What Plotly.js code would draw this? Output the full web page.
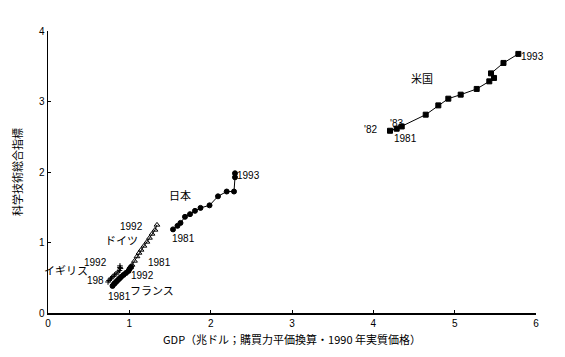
<!DOCTYPE html>
<html>
<head>
<meta charset="utf-8">
<script src="https://cdn.plot.ly/plotly-3.0.1.min.js"></script>
<style>html,body{margin:0;padding:0;background:#fff;}#chart{width:565px;height:357px;}</style>
</head>
<body>
<div id="chart"></div>
<script>
// Data (GDP in trillion $, science & technology index)
const years = [1981,1982,1983,1984,1985,1986,1987,1988,1989,1990,1991,1992,1993];

const usGDP   = [4.349,4.205,4.287,4.644,4.799,4.922,5.074,5.271,5.426,5.484,5.447,5.600,5.783];
const usIndex = [2.646,2.585,2.614,2.813,2.945,3.040,3.097,3.178,3.286,3.334,3.399,3.547,3.675];

const jpGDP   = [1.537,1.592,1.629,1.684,1.746,1.807,1.875,1.986,2.090,2.197,2.287,2.299,2.299];
const jpIndex = [1.186,1.236,1.278,1.364,1.402,1.449,1.491,1.527,1.655,1.723,1.723,1.925,1.982];

const deGDP   = [1.014,1.033,1.064,1.094,1.119,1.144,1.180,1.217,1.248,1.279,1.316,1.340];
const deIndex = [0.646,0.682,0.739,0.802,0.852,0.895,0.952,1.009,1.065,1.122,1.179,1.250];

const frGDP   = [0.793,0.812,0.824,0.842,0.861,0.879,0.898,0.928,0.959,0.990,1.002,1.021];
const frIndex = [0.384,0.412,0.426,0.447,0.469,0.490,0.511,0.540,0.568,0.597,0.625,0.653];

const ukGDP   = [0.738,0.750,0.768,0.781,0.799,0.818,0.836,0.861,0.879,0.891,0.885,0.885];
const ukIndex = [0.440,0.462,0.483,0.497,0.518,0.540,0.554,0.582,0.604,0.632,0.646,0.668];

const xTicks = [0,1,2,3,4,5,6];
const yTicks = [0,1,2,3,4];

const NUM = 'Liberation Sans, Arial, sans-serif';
const JP = 'Noto Sans CJK JP, sans-serif';

function series(x, y, symbol, size, name) {
  return {
    type: 'scatter', mode: 'lines+markers', x: x, y: y, name: name,
    text: years.slice(0, x.length).map(String),
    line: {color: '#000', width: 1},
    marker: {symbol: symbol, size: size, color: '#000', line: {color: '#000', width: 1}},
    cliponaxis: false
  };
}

const traces = [
  series(usGDP, usIndex, 'square', 5, '米国'),
  series(jpGDP, jpIndex, 'circle', 5, '日本'),
  series(deGDP, deIndex, 'triangle-up-open', 5, 'ドイツ'),
  series(frGDP, frIndex, 'circle', 5, 'フランス'),
  series(ukGDP, ukIndex, 'cross-thin-open', 4, 'イギリス')
];

function lab(text, x, y, jp) {
  return {text: text, x: x, y: y, xref: 'x', yref: 'y', showarrow: false,
          font: {family: jp ? JP : NUM, size: jp ? 11 : 10, color: '#000'}};
}

const annotations = [
  lab('米国', 4.599, 3.338, true),
  lab('1993', 5.951, 3.636),
  lab("'82", 3.971, 2.599),
  lab("'83", 4.279, 2.685),
  lab('1981', 4.390, 2.472),
  lab('日本', 1.623, 1.676, true),
  lab('1993', 2.471, 1.946),
  lab('1981', 1.672, 1.051),
  lab('1992', 1.021, 1.222),
  lab('ドイツ', 0.898, 1.037, true),
  lab('1981', 1.365, 0.710),
  lab('イギリス', 0.221, 0.611, true),
  lab('1992', 0.590, 0.710),
  lab('198', 0.578, 0.455),
  lab('1992', 1.156, 0.526),
  lab('フランス', 1.279, 0.327, true),
  lab('1981', 0.885, 0.241)
];

const layout = {
  width: 565, height: 357,
  margin: {l: 48, r: 29, t: 31, b: 44},
  paper_bgcolor: '#fff', plot_bgcolor: '#fff',
  showlegend: false,
  font: {family: NUM, size: 10, color: '#000'},
  xaxis: {
    range: [0, 6], tickvals: xTicks, ticktext: xTicks.map(String),
    showgrid: false, zeroline: false, showline: true, linecolor: '#000', linewidth: 1.5,
    ticks: 'inside', ticklen: 3, tickcolor: '#000',
    tickfont: {family: NUM, size: 10},
    title: {text: 'GDP（兆ドル；購買力平価換算・1990 年実質価格）', font: {family: JP, size: 11}, standoff: 9}
  },
  yaxis: {
    range: [0, 4], tickvals: yTicks, ticktext: yTicks.map(String),
    showgrid: false, zeroline: false, showline: true, linecolor: '#000', linewidth: 1.5,
    ticks: 'inside', ticklen: 3, tickcolor: '#000',
    tickfont: {family: NUM, size: 10},
    title: {text: '科学技術総合指標', font: {family: JP, size: 11}, standoff: 14}
  },
  annotations: annotations
};

Plotly.newPlot('chart', traces, layout, {staticPlot: true, displayModeBar: false});
</script>
</body>
</html>
